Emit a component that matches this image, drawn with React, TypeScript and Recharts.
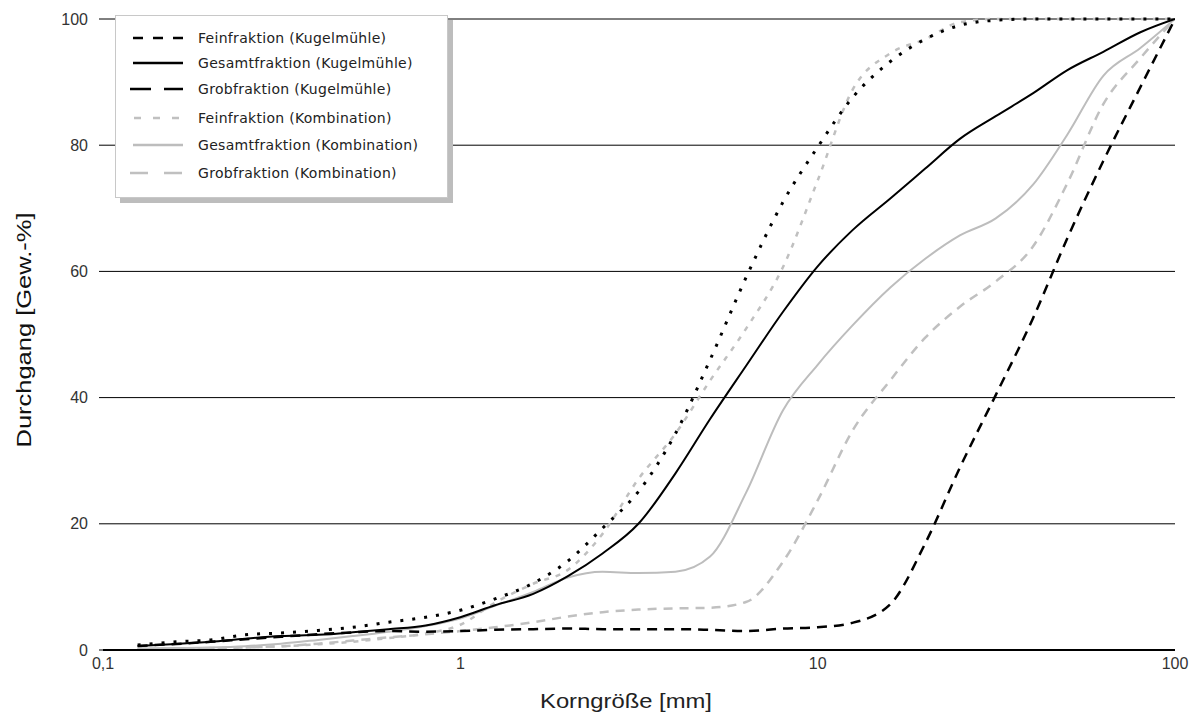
import React from "react";
import {
  LineChart,
  Line,
  XAxis,
  YAxis,
  CartesianGrid,
  Legend,
} from "recharts";

// sieve sizes in mm (1/10 decade steps)
const sizes = [
  0.125, 0.16, 0.2, 0.25, 0.315, 0.4, 0.5, 0.63, 0.8, 1, 1.25, 1.6, 2, 2.5,
  3.15, 4, 5, 6.3, 8, 10, 12.5, 16, 20, 25, 31.5, 40, 50, 63, 80, 100,
];

// Durchgang in Gew.-%
const feinKugel = [
  0.8, 1.3, 1.6, 2.4, 2.7, 3.1, 3.6, 4.4, 5.2, 6.3, 8.1, 10.6, 14.1, 19.3,
  25.1, 34.3, 46, 59, 71, 79.7, 87.5, 93.3, 96.8, 99, 99.8, 100, 100, 100, 100,
  100,
];
const gesamtKugel = [
  0.65, 0.95, 1.3, 1.8, 2.2, 2.4, 2.8, 3.3, 3.9, 5.2, 7.1, 8.9, 11.7, 15.3, 20,
  28, 36.6, 45, 53.6, 60.8, 66.5, 71.6, 76.3, 81, 84.6, 88.2, 91.9, 94.8, 97.9,
  100,
];
const grobKugel = [
  0.65, 0.95, 1.3, 1.7, 2.1, 2.5, 2.8, 3.0, 2.9, 3.0, 3.2, 3.3, 3.4, 3.3, 3.3,
  3.3, 3.2, 3.0, 3.4, 3.6, 4.3, 7.3, 16.9, 28.9, 40.4, 52.5, 65.3, 77.5, 89.2,
  100,
];
const feinKomb = [
  0.2, 0.2, 0.3, 0.4, 0.6, 0.9, 1.3, 1.9, 2.6, 4.0, 7.5, 10.5, 12.7, 18.4,
  27.1, 34.3, 42.7, 50.9, 60.7, 74.4, 88.7, 94.6, 96.8, 99.5, 100, 100, 100,
  100, 100, 100,
];
const gesamtKomb = [
  0.2, 0.3, 0.4, 0.6, 1.0, 1.6, 2.2, 2.9, 3.8, 5.0, 7.0, 9.2, 11.5, 12.4, 12.2,
  12.4, 14.8, 24.9, 38, 45.2, 51.4, 57.5, 62, 65.7, 68.4, 73.7, 81.7, 91, 95.4,
  100,
];
const grobKomb = [
  0.2, 0.2, 0.3, 0.4, 0.6, 1.0, 1.5, 2.0, 2.5, 3.0, 3.6, 4.4, 5.3, 6.0, 6.4,
  6.6, 6.7, 7.6, 14, 23.7, 34.7, 42.8, 49.5, 54.4, 58.4, 63.9, 74, 86.5, 93.8,
  100,
];

const xTicks = [0.1, 1, 10, 100];
const yTicks = [0, 20, 40, 60, 80, 100];

const data = sizes.map((size, i) => ({
  size,
  feinKugel: feinKugel[i],
  gesamtKugel: gesamtKugel[i],
  grobKugel: grobKugel[i],
  feinKomb: feinKomb[i],
  gesamtKomb: gesamtKomb[i],
  grobKomb: grobKomb[i],
}));

const SERIES = [
  { key: "feinKugel", name: "Feinfraktion (Kugelmühle)", color: "#000", dash: "3 9", width: 3, legendDash: "10 10", legendX: 17 },
  { key: "gesamtKugel", name: "Gesamtfraktion (Kugelmühle)", color: "#000", dash: undefined, width: 2, legendDash: undefined, legendX: 17 },
  { key: "grobKugel", name: "Grobfraktion (Kugelmühle)", color: "#000", dash: "10 7", width: 2.5, legendDash: "21 13", legendX: 14 },
  { key: "feinKomb", name: "Feinfraktion (Kombination)", color: "#c0c0c0", dash: "5 7", width: 2.5, legendDash: "7 12", legendX: 18 },
  { key: "gesamtKomb", name: "Gesamtfraktion (Kombination)", color: "#bdbdbd", dash: undefined, width: 2, legendDash: undefined, legendX: 17 },
  { key: "grobKomb", name: "Grobfraktion (Kombination)", color: "#c0c0c0", dash: "9 7", width: 2.5, legendDash: "18 16", legendX: 14 },
];

const ROW_Y = [22, 47, 73, 102, 129, 157];

function LegendBox() {
  return (
    <div
      style={{
        width: 331,
        height: 181,
        border: "1px solid #c8c8c8",
        background: "#fff",
        boxShadow: "5px 5px 0 #bdbdbd",
        position: "relative",
        fontFamily: '"DejaVu Sans", sans-serif',
        fontSize: 14,
        letterSpacing: 0.3,
        color: "#222",
      }}
    >
      {SERIES.map((s, i) => (
        <div
          key={s.key}
          style={{
            position: "absolute",
            left: 0,
            top: ROW_Y[i] - 10,
            height: 20,
            display: "flex",
            alignItems: "center",
            whiteSpace: "nowrap",
          }}
        >
          <svg width={82} height={20}>
            <line
              x1={s.legendX}
              x2={67}
              y1={10}
              y2={10}
              stroke={s.color}
              strokeWidth={2.5}
              strokeDasharray={s.legendDash}
            />
          </svg>
          <span>{s.name}</span>
        </div>
      ))}
    </div>
  );
}

const tickStyle = { fontFamily: '"Liberation Sans", Arial, sans-serif', fontSize: 16, fill: "#333" };

export default function App() {
  // draw grey series first so the black ones sit on top
  const order = [...SERIES.slice(3), ...SERIES.slice(0, 3)];
  return (
    <div style={{ width: 1195, height: 712, background: "#fff" }}>
      <LineChart
        width={1195}
        height={712}
        data={data}
        margin={{ top: 11, right: 28, left: 20, bottom: 10 }}
      >
        <CartesianGrid horizontal vertical={false} stroke="#000" strokeWidth={1} />
        <XAxis
          dataKey="size"
          type="number"
          scale="log"
          domain={[0.1, 100]}
          ticks={xTicks}
          allowDataOverflow
          tickFormatter={(v) => String(v).replace(".", ",")}
          tick={tickStyle}
          tickLine={false}
          tickSize={0}
          tickMargin={8}
          axisLine={{ stroke: "#000", strokeWidth: 2 }}
          height={60}
          label={{
            content: () => (
              <text
                x={618}
                y={700}
                textAnchor="middle"
                fontFamily='"Liberation Sans", Arial, sans-serif'
                fontSize={21}
                fill="#222"
                textLength={172}
                lengthAdjust="spacingAndGlyphs"
              >
                Korngröße [mm]
              </text>
            ),
          }}
        />
        <YAxis
          type="number"
          domain={[0, 100]}
          ticks={yTicks}
          width={75}
          axisLine={false}
          tickLine={{ stroke: "#000" }}
          tickSize={4}
          tickMargin={11}
          tick={tickStyle}
          label={{
            content: () => (
              <text
                x={16}
                y={322}
                transform="rotate(-90 16 322)"
                textAnchor="middle"
                dominantBaseline="central"
                fontFamily='"Liberation Sans", Arial, sans-serif'
                fontSize={20}
                fill="#111"
                textLength={235}
                lengthAdjust="spacingAndGlyphs"
              >
                Durchgang [Gew.-%]
              </text>
            ),
          }}
        />
        <Legend
          layout="vertical"
          align="center"
          verticalAlign="middle"
          wrapperStyle={{ position: "absolute", left: 107, top: 7, width: 340, height: 190 }}
          content={() => <LegendBox />}
        />
        {order.map((s) => (
          <Line
            key={s.key}
            type="monotone"
            dataKey={s.key}
            name={s.name}
            stroke={s.color}
            strokeWidth={s.width}
            strokeDasharray={s.dash}
            dot={false}
            activeDot={false}
            isAnimationActive={false}
          />
        ))}
      </LineChart>
    </div>
  );
}
